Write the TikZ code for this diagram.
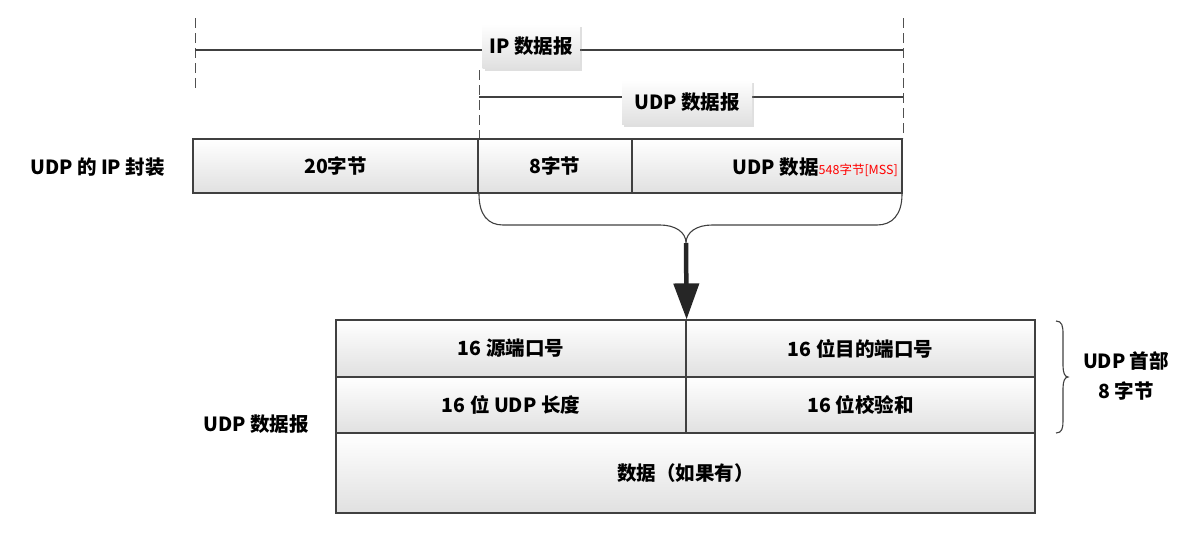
\documentclass[tikz,border=0pt]{standalone}
\usepackage{fontspec}
\setmainfont{Noto Sans CJK SC}
\usetikzlibrary{arrows.meta,shadows}
\definecolor{edge}{HTML}{404040}
\definecolor{dashc}{HTML}{505050}
\newcommand{\txtfont}{\bfseries\fontsize{19.5}{23}\selectfont}
\tikzset{
  cell/.style={draw=edge, line width=1.2pt, top color=white, bottom color=black!12,
    minimum height=#1, inner sep=0pt, font=\txtfont},
  lblbox/.style={top color=white, bottom color=black!12, inner sep=0pt,
    minimum height=44pt, font=\txtfont,
    drop shadow={opacity=0.25, shadow xshift=2pt, shadow yshift=-3pt}},
  dashv/.style={draw=dashc, line width=1pt, dash pattern=on 10pt off 5pt},
  spanline/.style={draw=edge, line width=1.2pt},
  brace/.style={draw=edge, line width=1.1pt},
  plain/.style={font=\txtfont, inner sep=0pt}
}
\begin{document}
\begin{tikzpicture}[x=1pt,y=-1pt]
\useasboundingbox (0,0) rectangle (1198,536);

% dashed limit marks
\coordinate (ipL1) at (195,18);  \coordinate (ipL2) at (195,90);
\coordinate (ipR1) at (903,18);  \coordinate (ipR2) at (903,138);
\coordinate (udL1) at (479,70);  \coordinate (udL2) at (479,138);
\draw[dashv] (ipL1) -- (ipL2);
\draw[dashv] (ipR1) -- (ipR2);
\draw[dashv] (udL1) -- (udL2);

% span lines
\coordinate (ipA) at (195,50); \coordinate (ipB) at (903,50);
\coordinate (udA) at (479,97); \coordinate (udB) at (903,97);
\draw[spanline] (ipA) -- (ipB);
\draw[spanline] (udA) -- (udB);
\node[lblbox, minimum width=97pt] (iplbl) at (531,46) {IP 数据报};
\node[lblbox, minimum width=130pt] (udplbl) at (687,102) {UDP 数据报};

% IP encapsulation row
\node[plain, anchor=west] (enclbl) at (30,167) {UDP 的 IP 封装};
\node[cell=54pt, minimum width=285pt] (c20) at (335.5,166) {20字节};
\node[cell=54pt, minimum width=154pt] (c8) at (555,166) {8字节};
\node[cell=54pt, minimum width=270pt] (cdata) at (767,166) {};
\node[plain, anchor=east] (udpdata) at (898,167) {UDP 数据{\color{red}\mdseries\fontsize{12.5}{14}\selectfont 548字节[MSS]}};

% brace under UDP part
\coordinate (bL) at (479,194);
\coordinate (bR) at (902,194);
\coordinate (bT) at (686,243);
\draw[brace] (bL) .. controls (479,215) and (488,225) .. (503,225) -- (660,225)
  .. controls (675,225) and (686,232) .. (bT)
  .. controls (686,232) and (697,225) .. (712,225) -- (877,225)
  .. controls (892,225) and (902,215) .. (bR);

% lower table
\node[cell=57pt, minimum width=350pt] (src) at (511,348.5) {16 源端口号};
\node[cell=57pt, minimum width=349pt] (dst) at (860.5,348.5) {16 位目的端口号};
\node[cell=56pt, minimum width=350pt] (len) at (511,405) {16 位 UDP 长度};
\node[cell=56pt, minimum width=349pt] (chk) at (860.5,405) {16 位校验和};
\node[cell=80pt, minimum width=699pt] (payload) at (685.5,473) {数据（如果有）};
\node[plain] (udplbl2) at (256,424) {UDP 数据报};

% arrow
\draw[draw=black!85, line width=4.5pt, -{Triangle[width=25pt,length=36pt]}] (bT) -- (src.north east);

% right brace
\coordinate (rT) at (1056,321);
\coordinate (rB) at (1056,433);
\coordinate (rM) at (1068,377);
\draw[brace] (rT) .. controls (1062,321) and (1063,326) .. (1063,334) -- (1063,366)
  .. controls (1063,373) and (1065,377) .. (rM)
  .. controls (1065,377) and (1063,381) .. (1063,388) -- (1063,421)
  .. controls (1063,428) and (1062,433) .. (rB);
\node[plain, align=center, font=\txtfont\linespread{1.3}\selectfont] (hdr) at (1126,376) {UDP 首部\\8 字节};
\end{tikzpicture}
\end{document}
